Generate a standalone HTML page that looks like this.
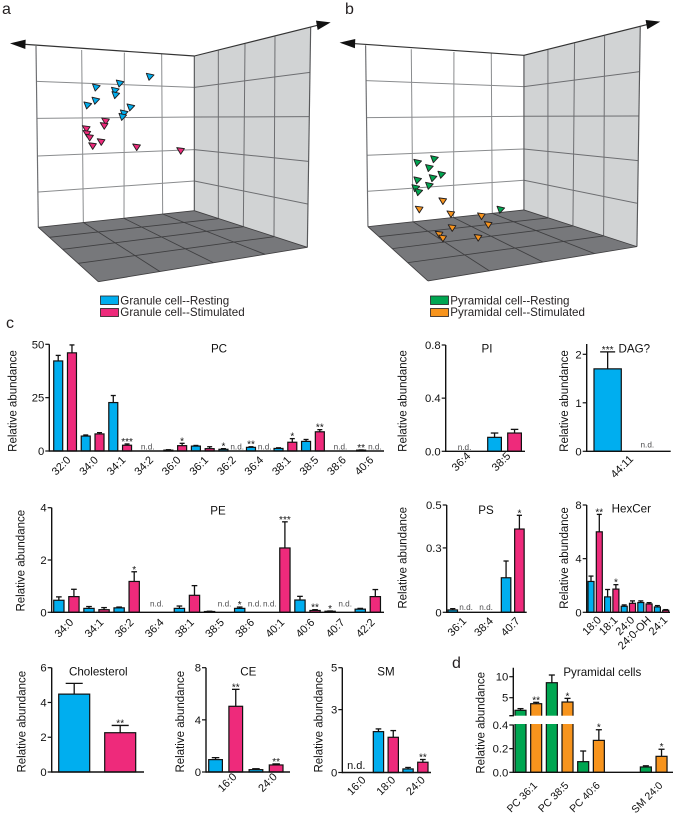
<!DOCTYPE html>
<html lang="en">
<head>
<meta charset="utf-8">
<title>Lipid abundance in granule and pyramidal cells</title>
<style>
html,body{margin:0;padding:0;background:#fff;}
svg{display:block;font-family:"Liberation Sans",Arial,sans-serif;filter:blur(0.3px);}
</style>
</head>
<body>
<svg id="figure" xmlns="http://www.w3.org/2000/svg" width="675" height="813" viewBox="0 0 675 813">
  <text x="2" y="14" font-size="16" fill="#231f20">a</text>
  <text x="345" y="14" font-size="16" fill="#231f20">b</text>
  <text x="6" y="328" font-size="16" fill="#231f20">c</text>
  <text x="452" y="668" font-size="16" fill="#231f20">d</text>

  <g font-size="11.6" fill="#231f20">
    <rect x="100.5" y="296" width="18" height="8.5" fill="#00aeef" stroke="#231f20" stroke-width="0.8"/>
    <text x="120.3" y="304.4">Granule cell--Resting</text>
    <rect x="100.5" y="308.5" width="18" height="8" fill="#ee2a7b" stroke="#231f20" stroke-width="0.8"/>
    <text x="120.3" y="316">Granule cell--Stimulated</text>
  </g>
  <g font-size="11.6" fill="#231f20">
    <rect x="430.5" y="296" width="18" height="8.5" fill="#00a651" stroke="#231f20" stroke-width="0.8"/>
    <text x="450.3" y="304.4">Pyramidal cell--Resting</text>
    <rect x="430.5" y="308.5" width="18" height="8" fill="#f7941d" stroke="#231f20" stroke-width="0.8"/>
    <text x="450.3" y="316">Pyramidal cell--Stimulated</text>
  </g>
</svg>
<script>
// ---- scatter values (percent across / up the back wall of each 3D box) ----
const granuleRestingX = [72, 53, 38, 50, 50.3, 37.7, 32.6, 59.8, 55.6, 54.7];
const granuleRestingY = [83.1, 79.4, 77.2, 75.4, 73, 69.9, 67.3, 66.2, 62.9, 61];
const granuleStimX = [43.8, 42.9, 31.6, 32, 33.7, 41, 35.6, 63.4, 91.2];
const granuleStimY = [58.6, 56.1, 54.4, 51.8, 49.6, 47.2, 45, 44.3, 42.3];
const pyramidalRestingX = [32.8, 43.4, 40.2, 48, 42.5, 32.8, 40.2, 31.6, 33.5, 85.3];
const pyramidalRestingY = [35.3, 37.3, 32.4, 28.7, 26.8, 25.6, 22.6, 21.3, 19.1, 9.4];
const pyramidalStimX = [48.6, 33.7, 53.7, 73, 77.3, 54.5, 70.9, 46.3, 48.6];
const pyramidalStimY = [14.2, 9.6, 7, 5.9, 1.1, -0.6, -6, -4.2, -6.3];

// ---- PC ----
const pcCategories = ['32:0','34:0','34:1','34:2','36:0','36:1','36:2','36:4','38:1','38:5','38:6','40:6'];
const pcResting = [42.2, 7, 22.7, null, 0.4, 2.3, 0.8, 1.7, 1.2, 4.5, null, 0.4];
const pcRestingErr = [44.8, 7.5, 26, null, 0.6, 2.6, 1.1, 2, 1.5, 5.4, null, 0.5];
const pcStim = [46, 8, 2.7, null, 2.5, 1.1, null, null, 4.1, 9, null, null];
const pcStimErr = [49.7, 8.6, 3.3, null, 3.6, 2, null, null, 5.8, 10, null, null];
const pcRestingSig = ['','','','','','','*','**','','','','**'];
const pcStimSig = ['','','***','','*','','','','*','**','',''];
const pcTicks = [0, 25, 50];
const pcTickLabels = ['0', '25', '50'];

// ---- PI ----
const piCategories = ['36:4', '38:5'];
const piResting = [null, 0.105];
const piRestingErr = [null, 0.1375];
const piStim = [null, 0.1375];
const piStimErr = [null, 0.165];
const piTicks = [0, 0.4, 0.8];
const piTickLabels = ['0.0', '0.4', '0.8'];

// ---- DAG ----
const dagCategories = ['44:11'];
const dagResting = [1.7];
const dagRestingErr = [2.05];
const dagStim = [null];
const dagStimErr = [null];
const dagRestingSig = ['***'];
const dagTicks = [0, 1, 2];
const dagTickLabels = ['0', '1', '2'];

// ---- PE ----
const peCategories = ['34:0','34:1','36:2','36:4','38:1','38:5','38:6','40:1','40:6','40:7','42:2'];
const peResting = [0.46, 0.15, 0.17, null, 0.15, 0.03, 0.15, null, 0.47, 0.04, 0.12];
const peRestingErr = [0.59, 0.22, 0.2, null, 0.24, 0.04, 0.2, null, 0.61, 0.05, 0.15];
const peStim = [0.6, 0.1, 1.18, null, 0.65, null, null, 2.46, 0.07, null, 0.6];
const peStimErr = [0.88, 0.18, 1.55, null, 1.02, null, null, 3.46, 0.1, null, 0.87];
const peRestingSig = ['','','','','','','*','','','*',''];
const peStimSig = ['','','*','','','','','***','**','',''];
const peTicks = [0, 2, 4];
const peTickLabels = ['0', '2', '4'];

// ---- PS ----
const psCategories = ['36:1', '38:4', '40:7'];
const psResting = [0.011, null, 0.161];
const psRestingErr = [0.017, null, 0.239];
const psStim = [null, null, 0.388];
const psStimErr = [null, null, 0.452];
const psStimSig = ['', '', '*'];
const psTicks = [0, 0.3, 0.5];
const psTickLabels = ['0', '0.3', '0.5'];

// ---- HexCer ----
const hexCategories = ['18:0', '18:1', '24:0', '24:0-OH', '24:1'];
const hexResting = [2.3, 1.15, 0.45, 0.73, 0.4];
const hexRestingErr = [2.7, 1.7, 0.55, 0.85, 0.5];
const hexStim = [6, 1.73, 0.67, 0.62, 0.15];
const hexStimErr = [7.3, 2.06, 0.85, 0.72, 0.2];
const hexStimSig = ['**', '*', '', '', ''];
const hexTicks = [0, 4, 8];
const hexTickLabels = ['0', '4', '8'];

// ---- Cholesterol ----
const cholCategories = [''];
const cholResting = [4.48];
const cholRestingErr = [5.1];
const cholStim = [2.26];
const cholStimErr = [2.68];
const cholStimSig = ['**'];
const cholTicks = [0, 2, 4, 6];
const cholTickLabels = ['0', '2', '4', '6'];

// ---- CE ----
const ceCategories = ['16:0', '24:0'];
const ceResting = [0.95, 0.18];
const ceRestingErr = [1.1, 0.25];
const ceStim = [5.04, 0.54];
const ceStimErr = [6.34, 0.62];
const ceStimSig = ['**', '**'];
const ceTicks = [0, 4, 8];
const ceTickLabels = ['0', '4', '8'];

// ---- SM ----
const smCategories = ['16:0', '18:0', '24:0'];
const smResting = [null, 1.95, 0.17];
const smRestingErr = [null, 2.08, 0.24];
const smStim = [null, 1.68, 0.49];
const smStimErr = [null, 2, 0.62];
const smStimSig = ['', '', '**'];
const smTicks = [0, 3, 5];
const smTickLabels = ['0', '3', '5'];

// ---- Pyramidal cells ----
const pyrCategories = ['PC 36:1', 'PC 38:5', 'PC 40:6', '', 'SM 24:0'];
const pyrResting = [2, 8.57, 0.09, null, 0.045];
const pyrRestingErr = [2.4, 10.4, 0.18, null, 0.055];
const pyrStim = [3.57, 3.97, 0.27, null, 0.135];
const pyrStimErr = [3.9, 4.84, 0.36, null, 0.195];
const pyrStimSig = ['**', '*', '*', '', '*'];
const pyrTicks = [0, 0.2, 0.4, 5, 10];
const pyrTickLabels = ['0.0', '0.2', '0.4', '5', '10'];

const SVGNS = 'http://www.w3.org/2000/svg';
const root = document.getElementById('figure');
const INK = '#111';

function make(parent, tag, props) {
  const el = document.createElementNS(SVGNS, tag);
  for (const k in props) el.setAttribute(k, props[k]);
  parent.appendChild(el);
  return el;
}

function drawLine(parent, x1, y1, x2, y2, stroke, width) {
  return make(parent, 'line', {x1: x1, y1: y1, x2: x2, y2: y2, stroke: stroke, 'stroke-width': width});
}

// ---------- 3D box with scatter ----------
function drawBox(name, dx, dy, seriesList) {
  const g = make(root, 'g', {transform: 'translate(' + dx + ',' + dy + ') scale(0.33333)'});
  
  

  const wall = make(g, 'polygon', {points: '108,138 583,168 583,632 115,682', fill: '#fff'});
  
  
  const side = make(g, 'polygon', {points: '583,168 932,82 922,742 583,632', fill: '#d1d3d4'});
  
  
  const floor = make(g, 'polygon', {points: '115,682 583,632 922,742 295,845', fill: '#77787b'});
  
  

  const grey = '#8a8c8e';
  [[245,150,250,667],[373,158,372,655],[485,162,488,642]].forEach(function (s) { drawLine(g, s[0], s[1], s[2], s[3], grey, 3); });
  [[110,244,583,262],[112,355,583,351],[113,468,583,449],[115,576,583,543]].forEach(function (s) { drawLine(g, s[0], s[1], s[2], s[3], grey, 3); });
  [[655,152,655,657],[735,132,730,680],[825,110,822,710]].forEach(function (s) { drawLine(g, s[0], s[1], s[2], s[3], '#6d6e71', 3); });
  [[583,262,930,217],[583,351,927,350],[583,449,925,484],[583,543,923,612]].forEach(function (s) { drawLine(g, s[0], s[1], s[2], s[3], '#6d6e71', 3); });
  [[250,667,480,815],[372,655,640,788],[488,642,795,763],[655,656,148,712],[730,680,188,748],[822,710,235,790]].forEach(function (s) { drawLine(g, s[0], s[1], s[2], s[3], '#3f3f41', 2.6); });
  drawLine(g, 108, 138, 115, 682, '#6d6e71', 3.5);
  drawLine(g, 583, 168, 583, 632, '#58595b', 3.5);
  drawLine(g, 932, 82, 922, 742, '#58595b', 3.5);
  drawLine(g, 115, 682, 583, 632, '#414042', 2.6);
  drawLine(g, 583, 632, 922, 742, '#414042', 2.6);
  drawLine(g, 115, 682, 295, 845, '#414042', 2.6);
  drawLine(g, 295, 845, 922, 742, '#414042', 2.6);

  const axisLeft = drawLine(g, 60, 132, 583, 168, '#333', 3.4);
  
  
  const axisRight = drawLine(g, 583, 168, 960, 74, '#333', 3.4);
  
  
  const headLeft = make(g, 'polygon', {points: '30,130 77,119 76,147', fill: '#111'});
  
  
  const headRight = make(g, 'polygon', {points: '992,67 948,62 953,90', fill: '#111'});
  
  

  // axis functions: wall percent -> box coordinates
  const sx = function (v) { return 108 + v * 4.75; };
  const sy = function (v) { return 138 + (100 - v) * 5.44; };
  seriesList.forEach(function (s) {
    s.xs.forEach(function (xv, i) {
      const px = sx(xv);
      const py = sy(s.ys[i]);
      const pts = s.shape.map(function (p) { return (px + p[0]) + ',' + (py + p[1]); }).join(' ');
      const m = make(g, 'polygon', {points: pts, fill: s.color, stroke: '#231f20', 'stroke-width': 2.8, 'stroke-linejoin': 'round'});
      
      
    });
  });
}

const triLeft = [[-11,-10],[12,-5],[-3,11]];
const triRight = [[-11,-9],[12,-6],[1,11]];
drawBox('granule', 0, 0, [
  {name: 'granule-resting', xs: granuleRestingX, ys: granuleRestingY, color: '#00aeef', shape: triLeft},
  {name: 'granule-stimulated', xs: granuleStimX, ys: granuleStimY, color: '#ee2a7b', shape: triRight}
]);
drawBox('pyramidal', 329.6, -0.7, [
  {name: 'pyramidal-resting', xs: pyramidalRestingX, ys: pyramidalRestingY, color: '#00a651', shape: triLeft},
  {name: 'pyramidal-stimulated', xs: pyramidalStimX, ys: pyramidalStimY, color: '#f7941d', shape: triRight}
]);

// ---------- Bar charts ----------
function linearY(c) {
  return function (v) { return c.y0 - v * (c.y0 - c.yAt) / c.vAt; };
}

function drawBarChart(c) {
  const y = c.yFn || linearY(c);
  const g = make(root, 'g', {});
  
  
  const colA = c.colA || '#00aeef';
  const colB = c.colB || '#ee2a7b';
  const nameA = c.nameA || 'resting';
  const nameB = c.nameB || 'stimulated';

  const slotX = function (slot) { return c.start + slot * c.step; };
  const drawSeries = function (values, errs, sigs, offset, color, seriesName) {
    values.forEach(function (v, i) {
      if (v === null) return;
      const x = slotX(i * 2 + offset);
      const cx = x + c.barW / 2;
      const capW = Math.max(c.barW * 0.55, 5);
      const topErr = y(errs[i]);
      const eLine = drawLine(g, cx, y(v), cx, topErr, '#111', 1.3);
      
      
      const eCap = drawLine(g, cx - capW / 2, topErr, cx + capW / 2, topErr, '#111', 1.3);
      
      
      const bar = make(g, 'rect', {x: x, y: y(v), width: c.barW, height: Math.max(c.y0 - y(v), 0.3), fill: color, stroke: '#111', 'stroke-width': 1.2});
      
      
      if (sigs && sigs[i]) {
        const s = make(g, 'text', {x: cx, y: topErr + 1, 'font-size': 10, 'text-anchor': 'middle', fill: INK});
        s.textContent = sigs[i];
        
        
      }
    });
  };
  drawSeries(c.a, c.aErr, c.aSig, 0, colA, nameA);
  drawSeries(c.b, c.bErr, c.bSig, 1, colB, nameB);

  // n.d. labels
  const ndAt = function (cx) {
    const t = make(g, 'text', {x: cx, y: c.y0 - c.ndLift, 'font-size': c.ndSize || 8.2, 'text-anchor': 'middle', fill: c.ndColor || '#4d4d4f'});
    t.textContent = 'n.d.';
    
    
  };
  c.categories.forEach(function (cat, i) {
    if (!cat) return;
    const xa = slotX(i * 2) + c.barW / 2;
    const xb = slotX(i * 2 + 1) + c.barW / 2;
    if (c.a[i] === null && c.b[i] === null) ndAt((xa + xb) / 2);
    else if (c.a[i] === null) ndAt(xa);
    else if (c.b[i] === null) ndAt(xb);
  });

  if (c.band) {
    const band = make(g, 'rect', {x: c.x0 - 2, y: c.band[0], width: c.band[2], height: c.band[1] - c.band[0], fill: '#fff'});
    
    
  }

  // axes
  const yAxis = c.band
    ? make(g, 'path', {d: 'M' + c.x0 + ' ' + c.yTop + 'V' + c.band[0] + 'H' + (c.x0 - 4) + 'M' + c.x0 + ' ' + (c.band[1] + 0.5) + 'V' + (c.y0 + 0.7), fill: 'none', stroke: '#111', 'stroke-width': 1.4})
    : drawLine(g, c.x0, c.yTop, c.x0, c.y0 + 0.7, '#111', 1.4);
  
  
  const xAxis = drawLine(g, c.x0, c.y0, c.xEnd, c.y0, '#111', 1.4);
  
  

  c.ticks.forEach(function (tv, i) {
    const ty = y(tv);
    const tick = drawLine(g, c.x0 - 4, ty, c.x0, ty, '#111', 1.2);
    
    
    const lbl = make(g, 'text', {x: c.x0 - 5, y: ty + 4, 'font-size': 11.3, 'text-anchor': 'end', fill: INK});
    lbl.textContent = c.tickLabels[i];
    
    
  });

  c.categories.forEach(function (cat, i) {
    if (!cat) return;
    const gc = (slotX(i * 2) + slotX(i * 2 + 1) + c.barW) / 2;
    const lx = gc + c.labelDx;
    const lab = make(g, 'text', {x: lx, y: c.labelY, dy: '.35em', 'font-size': c.labelSize || 11, 'text-anchor': 'end', fill: INK, transform: 'rotate(-45 ' + lx + ' ' + c.labelY + ')'});
    lab.textContent = cat;
    
    
  });

  const yTitle = make(g, 'text', {x: c.titleYx, y: c.titleYy, dy: '.35em', 'font-size': 11.5, 'text-anchor': 'middle', fill: INK, transform: 'rotate(-90 ' + c.titleYx + ' ' + c.titleYy + ')'});
  yTitle.textContent = 'Relative abundance';
  
  

  const title = make(g, 'text', {x: c.titleX, y: c.titleY, 'font-size': 11.6, 'text-anchor': 'middle', fill: INK});
  title.textContent = c.title;
  
  
}

drawBarChart({name: 'pc', title: 'PC', titleX: 219, titleY: 352.3, titleYx: 12.7, titleYy: 401,
  x0: 49.3, xEnd: 384, y0: 451, yTop: 344.3, yAt: 344.3, vAt: 50, start: 53.7, step: 13.77, barW: 9, ndLift: 1.7,
  labelDx: 3.5, labelY: 458, categories: pcCategories, a: pcResting, aErr: pcRestingErr, aSig: pcRestingSig,
  b: pcStim, bErr: pcStimErr, bSig: pcStimSig, ticks: pcTicks, tickLabels: pcTickLabels});

drawBarChart({name: 'pi', title: 'PI', titleX: 487, titleY: 352.3, titleYx: 402.7, titleYy: 401,
  x0: 445.7, xEnd: 525, y0: 451.3, yTop: 345, yAt: 345, vAt: 0.8, start: 447.7, step: 20, barW: 13.7, ndLift: 1.5,
  labelDx: 4, labelY: 454, categories: piCategories, a: piResting, aErr: piRestingErr,
  b: piStim, bErr: piStimErr, ticks: piTicks, tickLabels: piTickLabels});

drawBarChart({name: 'dag', title: 'DAG?', titleX: 634.3, titleY: 352.7, titleYx: 564, titleYy: 401,
  x0: 586.7, xEnd: 670.7, y0: 451.3, yTop: 344, yAt: 354.3, vAt: 2, start: 594, step: 39.7, barW: 27.3, ndLift: 3.7,
  labelDx: 3.7, labelY: 457, categories: dagCategories, a: dagResting, aErr: dagRestingErr, aSig: dagRestingSig,
  b: dagStim, bErr: dagStimErr, ticks: dagTicks, tickLabels: dagTickLabels});

drawBarChart({name: 'pe', title: 'PE', titleX: 218, titleY: 514.3, titleYx: 20.7, titleYy: 560.7,
  x0: 51.7, xEnd: 384, y0: 612.3, yTop: 507.7, yAt: 507.7, vAt: 4, start: 53.7, step: 15.07, barW: 10.3, ndLift: 5.7,
  labelDx: 5, labelY: 620.3, categories: peCategories, a: peResting, aErr: peRestingErr, aSig: peRestingSig,
  b: peStim, bErr: peStimErr, bSig: peStimSig, ticks: peTicks, tickLabels: peTickLabels});

drawBarChart({name: 'ps', title: 'PS', titleX: 486, titleY: 514, titleYx: 402.3, titleYy: 557.8,
  x0: 446.7, xEnd: 526.7, y0: 612.3, yTop: 505, yAt: 505, vAt: 0.5, start: 448, step: 13.33, barW: 9.5, ndLift: 2.3,
  labelDx: 5, labelY: 619, categories: psCategories, a: psResting, aErr: psRestingErr,
  b: psStim, bErr: psStimErr, bSig: psStimSig, ticks: psTicks, tickLabels: psTickLabels});

drawBarChart({name: 'hexcer', title: 'HexCer', titleX: 631.3, titleY: 512.7, titleYx: 564, titleYy: 558,
  x0: 586.7, xEnd: 670, y0: 612.3, yTop: 505, yAt: 505, vAt: 8, start: 588, step: 8.3, barW: 6, ndLift: 2,
  labelDx: 4, labelY: 618, categories: hexCategories, a: hexResting, aErr: hexRestingErr,
  b: hexStim, bErr: hexStimErr, bSig: hexStimSig, ticks: hexTicks, tickLabels: hexTickLabels});

drawBarChart({name: 'cholesterol', title: 'Cholesterol', titleX: 98.3, titleY: 675.7, titleYx: 21.7, titleYy: 721.7,
  x0: 51.7, xEnd: 144, y0: 772, yTop: 667.7, yAt: 667.7, vAt: 6, start: 58.7, step: 46, barW: 31, ndLift: 2,
  labelDx: 0, labelY: 780, categories: cholCategories, a: cholResting, aErr: cholRestingErr,
  b: cholStim, bErr: cholStimErr, bSig: cholStimSig, ticks: cholTicks, tickLabels: cholTickLabels});

drawBarChart({name: 'ce', title: 'CE', titleX: 248.3, titleY: 675.7, titleYx: 180, titleYy: 721.7,
  x0: 206, xEnd: 290, y0: 772, yTop: 667.7, yAt: 667.7, vAt: 8, start: 208.7, step: 20.2, barW: 13.7, ndLift: 2,
  labelDx: 9, labelY: 774.7, categories: ceCategories, a: ceResting, aErr: ceRestingErr,
  b: ceStim, bErr: ceStimErr, bSig: ceStimSig, ticks: ceTicks, tickLabels: ceTickLabels});

drawBarChart({name: 'sm', title: 'SM', titleX: 386, titleY: 675.7, titleYx: 318.3, titleYy: 721.7,
  x0: 342.3, xEnd: 431, y0: 772.5, yTop: 667.7, yAt: 667.7, vAt: 5, start: 343.7, step: 14.8, barW: 10.3, ndLift: 3.3, ndSize: 11, ndColor: INK,
  labelDx: 7.5, labelY: 778, categories: smCategories, a: smResting, aErr: smRestingErr,
  b: smStim, bErr: smStimErr, bSig: smStimSig, ticks: smTicks, tickLabels: smTickLabels});

const pyramidalY = function (v) {
  return v <= 0.4 ? 772.3 - v * (47.3 / 0.4) : 697.7 - (v - 5) * 4.2;
};
drawBarChart({name: 'pyramidal-cells', title: 'Pyramidal cells', titleX: 602.3, titleY: 676, titleYx: 480.7, titleYy: 722.8,
  x0: 513.3, xEnd: 673, y0: 772.3, yTop: 667.7, yFn: pyramidalY, start: 515, step: 15.67, barW: 11, ndLift: 2, band: [715.7, 724, 63],
  labelDx: 7, labelY: 783.5, labelSize: 10.5, categories: pyrCategories, colA: '#00a651', colB: '#f7941d',
  a: pyrResting, aErr: pyrRestingErr, b: pyrStim, bErr: pyrStimErr, bSig: pyrStimSig,
  ticks: pyrTicks, tickLabels: pyrTickLabels});
</script>
</body>
</html>
